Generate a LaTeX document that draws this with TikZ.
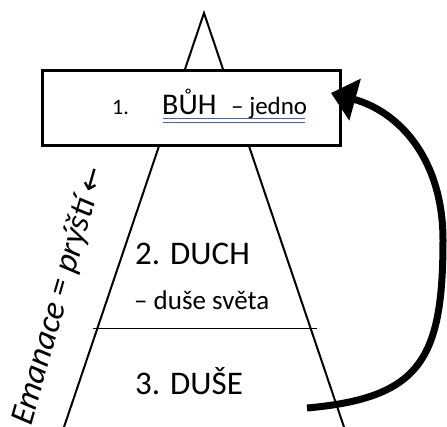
\documentclass[tikz,border=0pt]{standalone}
\usepackage{fontspec}
\setmainfont{Carlito}
\newfontfamily\arrowfont{DejaVu Sans}
\usetikzlibrary{arrows.meta}
\definecolor{ulblue}{RGB}{70,95,190}
\begin{document}
\begin{tikzpicture}[x=1pt,y=-1pt,
  edge/.style={line width=2pt},
  lbl/.style={inner sep=0pt, anchor=base west},
  big/.style={lbl, font=\fontsize{33}{33}\selectfont},
  ul/.style={ulblue, line width=1pt}]
\useasboundingbox (0,0) rectangle (447,427);
% pyramid
\coordinate (apex) at (204,13);
\coordinate (bl) at (63,430);
\coordinate (br) at (345,430);
\draw[edge] (bl) -- (apex) -- (br);
\coordinate (hl) at (93,329);
\coordinate (hr) at (317,329);
\draw[line width=1pt] (hl) -- (hr);
% top box
\node[draw, line width=3pt, fill=white, minimum width=298pt, minimum height=75pt, inner sep=0pt] (box) at (191.5,108) {};
\node[lbl, font=\fontsize{22}{22}\selectfont] (one) at (112,115) {1.};
\node[lbl, font=\fontsize{30}{30}\selectfont] (buh) at (162,115) {BŮH};
\node[lbl, font=\fontsize{25}{25}\selectfont] (jedno) at (231,115) {– jedno};
\coordinate (u1a) at (163,118.5);
\coordinate (u1b) at (305,118.5);
\coordinate (u2a) at (163,122.5);
\coordinate (u2b) at (305,122.5);
\draw[ul] (u1a) -- (u1b);
\draw[ul] (u2a) -- (u2b);
% levels
\node[big] (duch) at (135,265) {2. DUCH};
\node[lbl, font=\fontsize{27}{27}\selectfont] (svet) at (134,310) {– duše světa};
\node[big] (duse) at (135,395) {3. DUŠE};
% emanation label
\node[lbl, font=\itshape\fontsize{34}{34}\selectfont, rotate=74] (eman) at (31,427) {Emanace = prýští {\upshape\arrowfont\fontsize{30}{30}\selectfont ←}};
% return arrow
\coordinate (s) at (307,408);
\coordinate (r) at (443,240);
\coordinate (t) at (331,93);
\draw[line width=7pt, -{Triangle[length=25pt,width=42pt]}] (s) .. controls (420,398) and (443,360) .. (r) .. controls (443,160) and (400,112) .. (t);
\end{tikzpicture}
\end{document}
